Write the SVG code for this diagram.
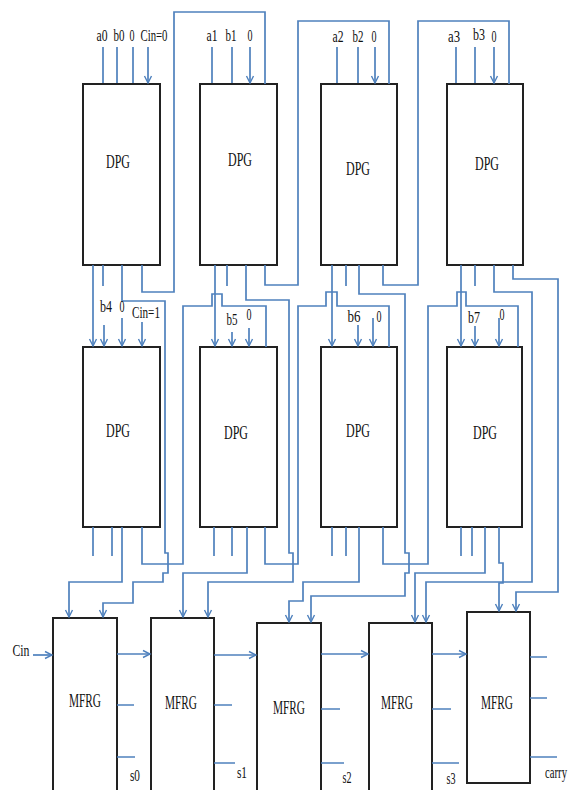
<svg xmlns="http://www.w3.org/2000/svg" width="576" height="790" viewBox="0 0 576 790">
<defs>
<marker id="ah" viewBox="-8 -5 10 10" refX="0" refY="0" markerWidth="10" markerHeight="10" markerUnits="userSpaceOnUse" orient="auto">
<path d="M-7,-3.5 L0,0 L-7,3.5" fill="none" stroke="#4F81BD" stroke-width="1.4"/>
</marker>
</defs>
<style>
.box{fill:#fff;stroke:#222;stroke-width:2}
.w{fill:none;stroke:#4F81BD;stroke-width:1.7}
.a{fill:none;stroke:#4F81BD;stroke-width:1.7;marker-end:url(#ah)}
.t{font-family:"Liberation Serif",serif;font-size:17px;fill:#111;text-anchor:middle}
.n{font-family:"Liberation Serif",serif;font-size:18px;fill:#111;text-anchor:middle}
</style>
<rect width="576" height="790" fill="#fff"/>

<g id="dpg1"><rect class="box" x="83" y="84" width="77" height="181"/><text class="n" x="118" y="168" textLength="24" lengthAdjust="spacingAndGlyphs">DPG</text></g>
<g id="dpg2"><rect class="box" x="200" y="84" width="77" height="181"/><text class="n" x="240" y="166" textLength="24" lengthAdjust="spacingAndGlyphs">DPG</text></g>
<g id="dpg3"><rect class="box" x="321" y="84" width="76" height="181"/><text class="n" x="358" y="175" textLength="24" lengthAdjust="spacingAndGlyphs">DPG</text></g>
<g id="dpg4"><rect class="box" x="447" y="84" width="76" height="181"/><text class="n" x="487" y="170" textLength="24" lengthAdjust="spacingAndGlyphs">DPG</text></g>

<g id="dpg5"><rect class="box" x="83" y="347" width="77" height="180"/><text class="n" x="118" y="437" textLength="24" lengthAdjust="spacingAndGlyphs">DPG</text></g>
<g id="dpg6"><rect class="box" x="200" y="347" width="77" height="180"/><text class="n" x="236" y="439" textLength="24" lengthAdjust="spacingAndGlyphs">DPG</text></g>
<g id="dpg7"><rect class="box" x="321" y="347" width="76" height="180"/><text class="n" x="358" y="437" textLength="24" lengthAdjust="spacingAndGlyphs">DPG</text></g>
<g id="dpg8"><rect class="box" x="447" y="347" width="75" height="180"/><text class="n" x="485" y="439" textLength="24" lengthAdjust="spacingAndGlyphs">DPG</text></g>

<g id="mfrg1"><rect class="box" x="53" y="618" width="64" height="180"/><text class="n" x="85" y="707" textLength="32" lengthAdjust="spacingAndGlyphs">MFRG</text></g>
<g id="mfrg2"><rect class="box" x="151" y="618" width="63" height="180"/><text class="n" x="181" y="709" textLength="32" lengthAdjust="spacingAndGlyphs">MFRG</text></g>
<g id="mfrg3"><rect class="box" x="257" y="623" width="64" height="180"/><text class="n" x="289" y="714" textLength="32" lengthAdjust="spacingAndGlyphs">MFRG</text></g>
<g id="mfrg4"><rect class="box" x="369" y="623" width="63" height="180"/><text class="n" x="397" y="709" textLength="32" lengthAdjust="spacingAndGlyphs">MFRG</text></g>
<g id="mfrg5"><rect class="box" x="467" y="612" width="63" height="171"/><text class="n" x="497" y="709" textLength="32" lengthAdjust="spacingAndGlyphs">MFRG</text></g>

<g id="connectors">
<path class="a" d="M103,47V83M117,47V83M133,47V83M148,47V83"/>
<path class="a" d="M212,47V83M232,47V83M250,47V83"/>
<path class="a" d="M337,47V83M358,47V83M375,47V83"/>
<path class="a" d="M456,47V83M475,47V83M494,47V83"/>
<path class="w" d="M142,265V292H174V12H265V84"/>
<path class="w" d="M265,265V285H298V21H389V84"/>
<path class="w" d="M383,265V285H418V21H509V84"/>
<path class="w" d="M103,265V286M227,265V286M346,265V286M475,265V286"/>
<path class="a" d="M93,265V346"/><path class="a" d="M215,265V346"/><path class="a" d="M332,265V346"/><path class="a" d="M461,265V346"/>
<path class="a" d="M104,325V346"/><path class="a" d="M122,318V346"/><path class="a" d="M142,322V346"/>
<path class="a" d="M232,332V346"/><path class="a" d="M249,328V346"/>
<path class="a" d="M358,325V346"/><path class="a" d="M373,318V346"/>
<path class="a" d="M475,326V346"/><path class="a" d="M499,318V346"/>
<path class="a" d="M122,265V301H165V553H168V573H163V582H133V603H103V617"/>
<path class="a" d="M246,265V300H289V553H293V582H208V617"/>
<path class="a" d="M359,265V294H405V553H409V573H405V596H311V622"/>
<path class="a" d="M494,265V292H532V582H426V622"/>
<path class="a" d="M513,265V279H558V592H516V611"/>
<path class="w" d="M142,527V564H183V306H212V294H222V306H266V347"/>
<path class="w" d="M265,527V564H298V306H326V292H337V306H389V347"/>
<path class="w" d="M383,527V564H428V306H457V292H466V306H518V347"/>
<path class="a" d="M499,527V563H503V583H499V611"/>
<path class="w" d="M93,527V556M112,527V556M214,527V556M232,527V556M332,527V556M346,527V556M461,527V556M472,527V556"/>
<path class="a" d="M122,527V582H69V617"/>
<path class="a" d="M247,527V573H183V617"/>
<path class="a" d="M359,527V582H303V601H289V622"/>
<path class="a" d="M485,527V573H415V622"/>
<path class="a" d="M33,655H52"/>
<path class="a" d="M117,654H150"/>
<path class="a" d="M214,655H256"/>
<path class="a" d="M321,654H368"/>
<path class="a" d="M432,654H466"/>
<path class="w" d="M117,705H134M117,757H135"/>
<path class="w" d="M214,705H232M214,763H235"/>
<path class="w" d="M321,709H340M321,763H344"/>
<path class="w" d="M432,709H451M432,763H459"/>
<path class="w" d="M530,657H547M530,698H547M530,757H557"/>
</g>

<g id="labels">
<text class="t" x="102" y="41" textLength="11" lengthAdjust="spacingAndGlyphs">a0</text>
<text class="t" x="119" y="41" textLength="11" lengthAdjust="spacingAndGlyphs">b0</text>
<text class="t" x="132" y="41" textLength="5" lengthAdjust="spacingAndGlyphs">0</text>
<text class="t" x="154" y="41" textLength="27" lengthAdjust="spacingAndGlyphs">Cin=0</text>
<text class="t" x="212" y="41" textLength="11" lengthAdjust="spacingAndGlyphs">a1</text>
<text class="t" x="231" y="41" textLength="11" lengthAdjust="spacingAndGlyphs">b1</text>
<text class="t" x="250" y="41" textLength="5" lengthAdjust="spacingAndGlyphs">0</text>
<text class="t" x="338" y="42" textLength="11" lengthAdjust="spacingAndGlyphs">a2</text>
<text class="t" x="358" y="42" textLength="11" lengthAdjust="spacingAndGlyphs">b2</text>
<text class="t" x="374" y="42" textLength="5" lengthAdjust="spacingAndGlyphs">0</text>
<text class="t" x="454" y="42" textLength="12" lengthAdjust="spacingAndGlyphs">a3</text>
<text class="t" x="479" y="40" textLength="12" lengthAdjust="spacingAndGlyphs">b3</text>
<text class="t" x="494" y="42" textLength="5" lengthAdjust="spacingAndGlyphs">0</text>
<text class="t" x="106" y="312" textLength="12" lengthAdjust="spacingAndGlyphs">b4</text>
<text class="t" x="122" y="312" textLength="5" lengthAdjust="spacingAndGlyphs">0</text>
<text class="t" x="146" y="318" textLength="28" lengthAdjust="spacingAndGlyphs">Cin=1</text>
<text class="t" x="232" y="325" textLength="11" lengthAdjust="spacingAndGlyphs">b5</text>
<text class="t" x="249" y="320" textLength="5" lengthAdjust="spacingAndGlyphs">0</text>
<text class="t" x="354" y="322" textLength="13" lengthAdjust="spacingAndGlyphs">b6</text>
<text class="t" x="379" y="322" textLength="5" lengthAdjust="spacingAndGlyphs">0</text>
<text class="t" x="474" y="323" textLength="12" lengthAdjust="spacingAndGlyphs">b7</text>
<text class="t" x="502" y="320" textLength="5" lengthAdjust="spacingAndGlyphs">0</text>
<text class="t" x="21" y="656" textLength="17" lengthAdjust="spacingAndGlyphs">Cin</text>
<text class="t" x="135" y="781" textLength="10" lengthAdjust="spacingAndGlyphs">s0</text>
<text class="t" x="242" y="778" textLength="10" lengthAdjust="spacingAndGlyphs">s1</text>
<text class="t" x="347" y="783" textLength="9" lengthAdjust="spacingAndGlyphs">s2</text>
<text class="t" x="451" y="784" textLength="9" lengthAdjust="spacingAndGlyphs">s3</text>
<text class="t" x="556" y="778" textLength="22" lengthAdjust="spacingAndGlyphs">carry</text>
</g>
</svg>
